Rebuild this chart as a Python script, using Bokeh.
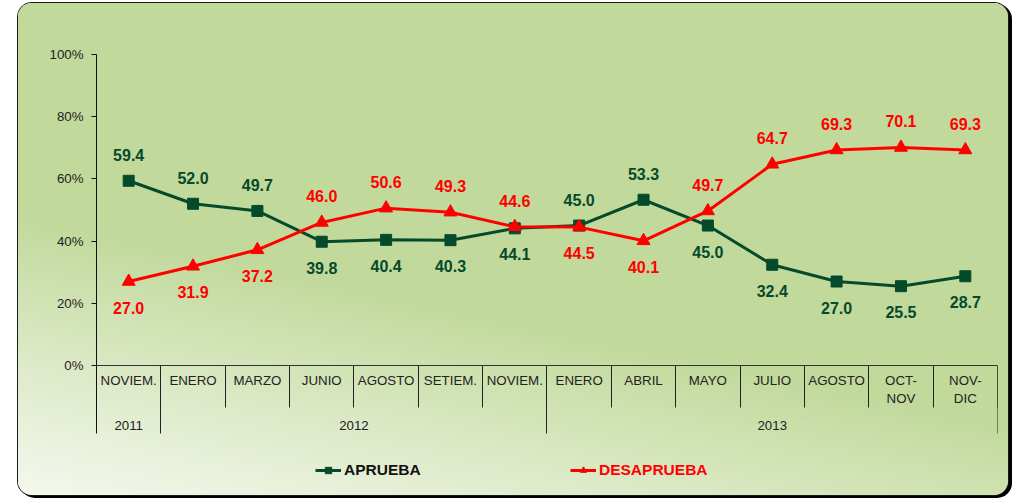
import numpy as np
from bokeh.plotting import figure
from bokeh.models import (ColumnDataSource, LabelSet, LinearAxis, FixedTicker, Grid,
                          Range1d, PrintfTickFormatter, Legend, LegendItem)
from bokeh.core.properties import value
from bokeh.embed import file_html
from bokeh.resources import INLINE

# ---------------- data ----------------
months = ["NOVIEM.", "ENERO", "MARZO", "JUNIO", "AGOSTO", "SETIEM.", "NOVIEM.",
          "ENERO", "ABRIL", "MAYO", "JULIO", "AGOSTO", "OCT-\nNOV", "NOV-\nDIC"]
years = ["2011", "2012", "2013"]
months_per_year = [1, 6, 7]
aprueba = [59.4, 52.0, 49.7, 39.8, 40.4, 40.3, 44.1, 45.0, 53.3, 45.0, 32.4, 27.0, 25.5, 28.7]
desaprueba = [27.0, 31.9, 37.2, 46.0, 50.6, 49.3, 44.6, 44.5, 40.1, 49.7, 64.7, 69.3, 70.1, 69.3]
aprueba_label_side = ["above", "above", "above", "below", "below", "below", "below",
                      "above", "above", "below", "below", "below", "below", "below"]
desaprueba_label_side = ["below", "below", "below", "above", "above", "above", "above",
                         "below", "below", "above", "above", "above", "above", "above"]
y_ticks = [0, 20, 40, 60, 80, 100]

GREEN = "#064a2c"
RED = "#ff0000"
FONT = "Liberation Sans"

n = len(months)
x = np.arange(n) + 0.5
boundaries = list(range(n + 1))
year_bounds = [0] + [int(v) for v in np.cumsum(months_per_year)]
year_centers = [(year_bounds[i] + year_bounds[i + 1]) / 2 for i in range(len(years))]

# layout (canvas pixels)
W, H = 990, 492
FRAME_LEFT, FRAME_RIGHT, FRAME_TOP, FRAME_BOTTOM = 78, 979, 51, 484
ZERO_PX = 362                      # canvas y of the 0% line
PX_PER_UNIT = (ZERO_PX - FRAME_TOP) / 100.0
y_start = 100 - (FRAME_BOTTOM - FRAME_TOP) / PX_PER_UNIT
row1_bottom = -42 / PX_PER_UNIT
row2_bottom = -68 / PX_PER_UNIT

p = figure(width=W, height=H, output_backend="svg", toolbar_location=None,
           x_range=Range1d(0, n + 0.0001), y_range=Range1d(y_start, 100),
           x_axis_location=None, y_axis_location="left",
           min_border_left=FRAME_LEFT, min_border_right=W - FRAME_RIGHT,
           min_border_top=FRAME_TOP, min_border_bottom=H - FRAME_BOTTOM)
p.styles = {
    "margin-left": "18px",
    "margin-top": "3px",
    "background": "linear-gradient(192deg, #c1d99b 0%, #c1d99b 60%, #dce9c6 80%, #f4f8ee 100%)",
    "border-radius": "14px",
    "box-shadow": "0 0 0 1px #1a1a1a, 3px 2px 0 1px #000",
}
p.background_fill_color = None
p.border_fill_color = None
p.outline_line_color = None
p.xgrid.visible = False
p.ygrid.visible = False

# y axis
ya = p.yaxis[0]
ya.ticker = FixedTicker(ticks=y_ticks)
ya.formatter = PrintfTickFormatter(format="%d%%")
ya.bounds = (row2_bottom, 100)
ya.major_label_text_font = FONT
ya.major_label_text_font_size = "13.3px"
ya.major_label_text_color = "#222222"
ya.major_tick_out = 5
ya.major_tick_in = 0
ya.minor_tick_line_color = None
ya.axis_line_color = "#111111"
ya.major_tick_line_color = "#111111"
ya.major_label_standoff = 8

# category separators
sep = Grid(dimension=0, ticker=FixedTicker(ticks=boundaries), cross_bounds=(row1_bottom, 0),
           grid_line_color="#222222", grid_line_width=1)
p.add_layout(sep)
ysep = Grid(dimension=0, ticker=FixedTicker(ticks=[float(b) for b in year_bounds]),
            cross_bounds=(row2_bottom, 0), grid_line_color="#222222", grid_line_width=1)
p.add_layout(ysep)

# month axis at 0
ma = LinearAxis(fixed_location=0, ticker=FixedTicker(ticks=list(x)),
                major_label_overrides={float(xi): m for xi, m in zip(x, months)})
ma.major_tick_out = 0
ma.major_tick_in = 0
ma.minor_tick_line_color = None
ma.axis_line_color = "#333333"
ma.major_label_text_font = FONT
ma.major_label_text_font_size = "13.3px"
ma.major_label_text_color = "#222222"
ma.major_label_standoff = 7
p.add_layout(ma, "below")

# year axis
yr = LinearAxis(fixed_location=row1_bottom, ticker=FixedTicker(ticks=year_centers),
                major_label_overrides={float(c): yv for c, yv in zip(year_centers, years)})
yr.major_tick_out = 0
yr.major_tick_in = 0
yr.minor_tick_line_color = None
yr.axis_line_color = None
yr.major_label_text_font = FONT
yr.major_label_text_font_size = "13.3px"
yr.major_label_text_color = "#222222"
yr.major_label_standoff = 13
p.add_layout(yr, "below")

# series
src_a = ColumnDataSource(dict(x=x, y=aprueba, t=[f"{v:.1f}" for v in aprueba],
                              off=[26 if s == "above" else -26 for s in aprueba_label_side]))
src_d = ColumnDataSource(dict(x=x, y=desaprueba, t=[f"{v:.1f}" for v in desaprueba],
                              off=[26 if s == "above" else -26 for s in desaprueba_label_side]))

la = p.line("x", "y", source=src_a, line_color=GREEN, line_width=3)
sa = p.scatter("x", "y", source=src_a, marker="square", size=11, color=GREEN)
ld = p.line("x", "y", source=src_d, line_color=RED, line_width=3)
sd = p.scatter("x", "y", source=src_d, marker="triangle", size=13, color=RED)

for src, col in ((src_a, GREEN), (src_d, RED)):
    p.add_layout(LabelSet(x="x", y="y", text="t", source=src, y_offset="off",
                          text_align="center", text_baseline="middle",
                          text_font=value(FONT), text_font_size=value("16px"),
                          text_font_style="bold", text_color=col))

# legends (one per entry so the text colours differ)
def make_legend(label, rends, color, loc):
    return Legend(items=[LegendItem(label=label, renderers=rends)], location=loc,
                  orientation="horizontal", background_fill_color=None, border_line_color=None,
                  padding=0, margin=0, glyph_width=26, glyph_height=16, label_height=16,
                  label_standoff=3, label_text_font=FONT, label_text_font_size="15.5px",
                  label_text_font_style="bold", label_text_color=color)

p.add_layout(make_legend("APRUEBA", [la, sa], "#111111", (219, 8)))
p.add_layout(make_legend("DESAPRUEBA", [ld, sd], RED, (474, 8)))

open("out.html", "w").write(file_html(p, INLINE))
